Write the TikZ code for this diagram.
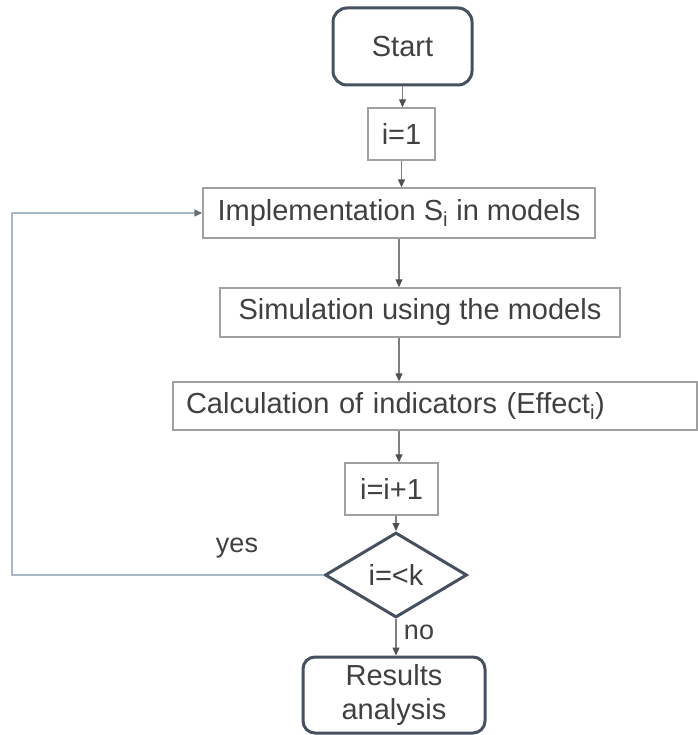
\documentclass[tikz,border=0pt]{standalone}
\usepackage{fontspec}
\setmainfont{Liberation Sans}
\usetikzlibrary{shapes.geometric,arrows.meta}
\definecolor{txt}{HTML}{404040}
\definecolor{thinb}{HTML}{A0A0A0}
\definecolor{thickb}{HTML}{46505E}
\definecolor{arr}{HTML}{7F7F7F}
\definecolor{arrhead}{HTML}{505050}
\definecolor{loopc}{HTML}{A8B8CA}
\tikzset{
  base/.style={text=txt, font=\fontsize{29}{34}\selectfont, inner sep=0pt},
  thinbox/.style={base, draw=thinb, line width=1.4pt, rectangle},
  termbox/.style={base, draw=thickb, line width=3pt, rectangle, rounded corners=14pt, align=center},
  decbox/.style={base, draw=thickb, line width=3pt, diamond, aspect=1.67},
  conn/.style={draw=arr, line width=1.2pt, -{Triangle[length=8pt,width=7pt,color=arrhead]}},
  loopconn/.style={draw=loopc, line width=1.4pt, -{Triangle[length=8pt,width=7pt,color=arrhead!70!loopc]}},
  lbl/.style={text=txt, font=\fontsize{27}{31}\selectfont, inner sep=0pt}
}
\begin{document}
\begin{tikzpicture}[x=1pt,y=-1pt]
\useasboundingbox (0,0) rectangle (697,735);
\node[termbox, minimum width=139pt, minimum height=77pt] (start) at (402.5,46.5) {Start};
\node[thinbox, minimum width=67pt, minimum height=52pt] (i1) at (401.5,134) {i=1};
\node[thinbox, minimum width=392pt, minimum height=50pt] (impl) at (399,213) {Implementation S\textsubscript{i} in models};
\node[thinbox, minimum width=400pt, minimum height=49pt] (sim) at (420,312.5) {Simulation using the models};
\node[thinbox, minimum height=48pt, inner xsep=13pt, text width=498pt, align=left] (calc) at (435,406) {Calculation of indicators (Effect\textsubscript{i})};
\node[thinbox, minimum width=93pt, minimum height=52pt] (inc) at (391.5,489) {i=i+1};
\node[decbox, minimum width=142pt, minimum height=85pt] (dec) at (396,575) {i=<k};
\node[termbox, minimum width=182pt, minimum height=76pt, rounded corners=12pt] (res) at (394,695) {Results\\analysis};
\coordinate (lb) at (12,575);
\coordinate (lt) at (12,213);
\node[lbl] (yes) at (237,548) {yes};
\node[lbl] (no) at (419,632) {no};
\draw[conn] (start.south) -- (start.south |- i1.north);
\draw[conn] (i1.south) -- (i1.south |- impl.north);
\draw[conn] (impl.south) -- (impl.south |- sim.north);
\draw[conn] (sim.south -| impl.south) -- (calc.north -| impl.south);
\draw[conn] (calc.south -| impl.south) -- (inc.north -| impl.south);
\draw[conn] (inc.south -| dec.north) -- (dec.north);
\draw[conn] (dec.south) -- (res.north -| dec.south);
\draw[loopconn] (dec.west) -- (lb) -- (lt) -- (impl.west);
\end{tikzpicture}
\end{document}
